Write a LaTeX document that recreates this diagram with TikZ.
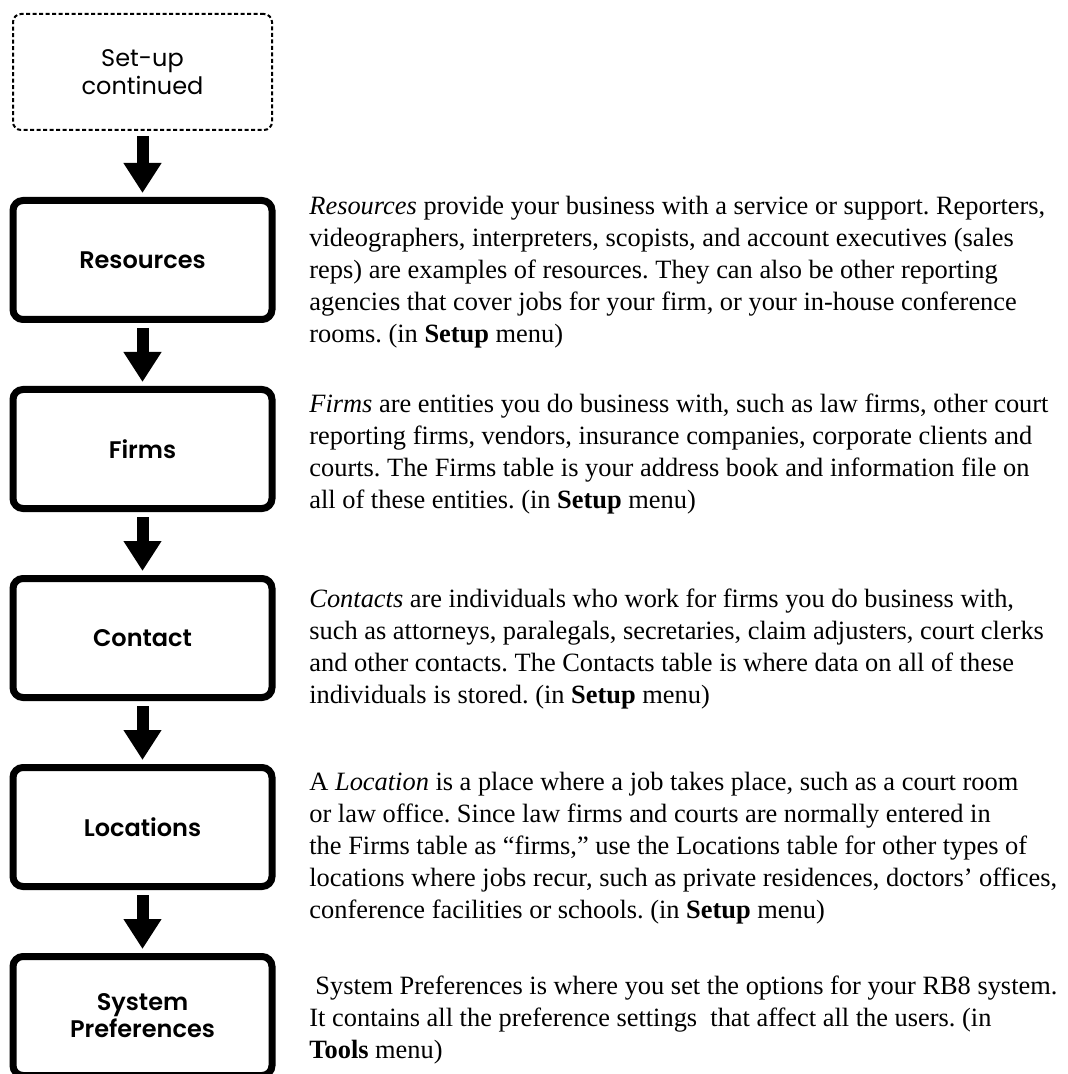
\documentclass[tikz,border=0pt]{standalone}
\usepackage{fontspec}
\setmainfont{Liberation Serif}
\newfontfamily\gothicfont{Poppins}[BoldFont={Poppins SemiBold}]
\usetikzlibrary{positioning,arrows.meta}
\frenchspacing

\begin{document}
\begin{tikzpicture}[
    x=0.5pt, y=-0.5pt,
    node distance=31.5pt,
    stage/.style={draw, rounded corners=5pt, line width=3.5pt, minimum width=129.5pt, minimum height=59.5pt,
        align=center, inner sep=0, font=\gothicfont\bfseries\fontsize{12}{13.5}\selectfont},
    startstage/.style={draw, dash pattern=on 2pt off 1.25pt, rounded corners=4pt, line width=1pt,
        minimum width=129.5pt, minimum height=58pt, align=center, inner sep=0,
        font=\gothicfont\fontsize{12}{14}\selectfont},
    flow/.style={line width=6pt, -{Triangle[length=15pt,width=18pt]}, shorten <=2.5pt, shorten >=2pt},
    desc/.style={anchor=base west, align=left, inner sep=0, font=\fontsize{13.2}{16}\selectfont}]
\useasboundingbox (0,0) rectangle (1068,1074);
\clip (0,0) rectangle (1068,1074);

\node[startstage] (setup) at (142.5,72) {Set-up\\continued};
\node[stage, below=33pt of setup] (resources) {Resources};
\node[stage, below=of resources] (firms) {Firms};
\node[stage, below=of firms] (contact) {Contact};
\node[stage, below=of contact] (locations) {Locations};
\node[stage, below=of locations] (sysprefs) {System\\Preferences};

\draw[flow] (setup) -- (resources);
\draw[flow] (resources) -- (firms);
\draw[flow] (firms) -- (contact);
\draw[flow] (contact) -- (locations);
\draw[flow] (locations) -- (sysprefs);

\node[desc] (resourcestext) at (309,343) {\textit{Resources} provide your business with a service or support. Reporters,\\
    videographers, interpreters, scopists, and account executives (sales\\
    reps) are examples of resources. They can also be other reporting\\
    agencies that cover jobs for your firm, or your in-house conference\\
    rooms. (in \textbf{Setup} menu)};
\node[desc] (firmstext) at (309,508) {\textit{Firms} are entities you do business with, such as law firms, other court\\
    reporting firms, vendors, insurance companies, corporate clients and\\
    courts. The Firms table is your address book and information file on\\
    all of these entities. (in \textbf{Setup} menu)};
\node[desc] (contacttext) at (309,703) {\textit{Contacts} are individuals who work for firms you do business with,\\
    such as attorneys, paralegals, secretaries, claim adjusters, court clerks\\
    and other contacts. The Contacts table is where data on all of these\\
    individuals is stored. (in \textbf{Setup} menu)};
\node[desc] (locationstext) at (309,918) {A \textit{Location} is a place where a job takes place, such as a court room\\
    or law office. Since law firms and courts are normally entered in\\
    the Firms table as ``firms,'' use the Locations table for other types of\\
    locations where jobs recur, such as private residences, doctors' offices,\\
    conference facilities or schools. (in \textbf{Setup} menu)};
\node[desc] (sysprefstext) at (309,1058) {\hspace*{3pt}System Preferences is where you set the options for your RB8 system.\\
    It contains all the preference settings\ \ that affect all the users. (in\\
    \textbf{Tools} menu)};
\end{tikzpicture}
\end{document}
